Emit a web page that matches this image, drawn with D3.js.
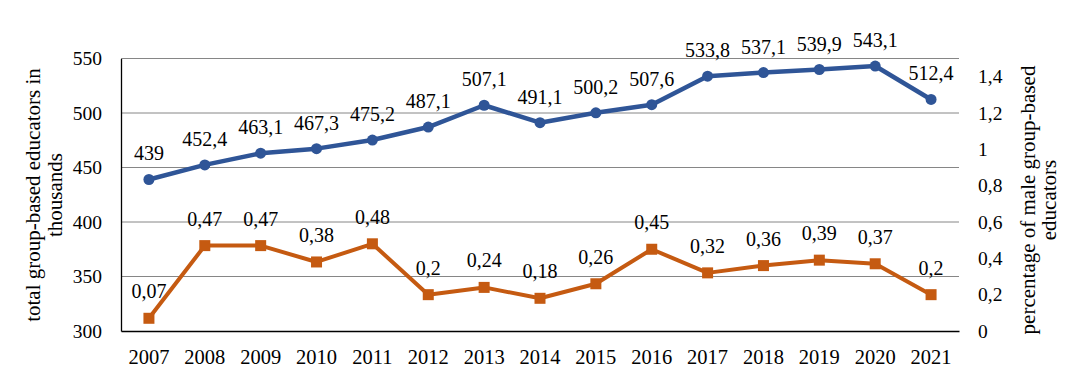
<!DOCTYPE html>
<html>
<head>
<meta charset="utf-8">
<script src="https://cdn.jsdelivr.net/npm/d3@7"></script>
<style>
  html, body { margin: 0; padding: 0; background: #fff; }
  svg { display: block; }
  svg text { font-family: "Liberation Serif", "Times New Roman", serif !important; fill: #000; }
</style>
</head>
<body>
<svg id="chart" width="1087" height="385"></svg>
<script>
const years = ["2007","2008","2009","2010","2011","2012","2013","2014","2015","2016","2017","2018","2019","2020","2021"];
const totalEducators = [439, 452.4, 463.1, 467.3, 475.2, 487.1, 507.1, 491.1, 500.2, 507.6, 533.8, 537.1, 539.9, 543.1, 512.4];
const malePercentage = [0.07, 0.47, 0.47, 0.38, 0.48, 0.2, 0.24, 0.18, 0.26, 0.45, 0.32, 0.36, 0.39, 0.37, 0.2];
const leftTicks = [300, 350, 400, 450, 500, 550];
const rightTicks = [0, 0.2, 0.4, 0.6, 0.8, 1, 1.2, 1.4];
const leftTitle = ["total group-based educators in", "thousands"];
const rightTitle = ["percentage of male group-based", "educators"];

const svg = d3.select("#chart");
const plot = { left: 121, right: 959, top: 58.5, bottom: 331 };
const blue = "#2F5597", orange = "#C55A11";
const FONT = "Liberation Serif";
const comma = v => String(v).replace(".", ",");

const x = d3.scaleBand().domain(years).range([plot.left, plot.right]).padding(0);
const yL = d3.scaleLinear().domain([300, 550]).range([plot.bottom, plot.top]);
const yR = d3.scaleLinear().domain([0, 1.5]).range([plot.bottom, plot.top]);
const cx = d => x(d) + x.bandwidth() / 2;

// gridlines
svg.append("g").selectAll("line").data(leftTicks.filter(t => t > 300)).join("line")
  .attr("x1", plot.left).attr("x2", plot.right)
  .attr("y1", d => yL(d)).attr("y2", d => yL(d))
  .attr("stroke", "#868686").attr("stroke-width", 1);

// left axis
const gL = svg.append("g").attr("transform", `translate(${plot.left},0)`)
  .call(d3.axisLeft(yL).tickValues(leftTicks).tickSize(0).tickPadding(19).tickFormat(d => d));
gL.attr("font-family", FONT).attr("font-size", 19.5);
gL.select(".domain").attr("stroke", "#000").attr("stroke-width", 1.3);

// right axis
const gR = svg.append("g").attr("transform", `translate(${plot.right},0)`)
  .call(d3.axisRight(yR).tickValues(rightTicks).tickSize(0).tickPadding(19).tickFormat(comma));
gR.attr("font-family", FONT).attr("font-size", 19.5);
gR.select(".domain").remove();

// bottom axis
const gB = svg.append("g").attr("transform", `translate(0,${plot.bottom})`)
  .call(d3.axisBottom(x).tickSize(0).tickPadding(18));
gB.attr("font-family", FONT).attr("font-size", 20.5);
gB.select(".domain").attr("stroke", "#000").attr("stroke-width", 1.3);

// axis titles
const lt = svg.append("text").attr("transform", "translate(40,195) rotate(-90)")
  .attr("text-anchor", "middle").attr("font-family", FONT).attr("font-size", 21);
leftTitle.forEach((t, i) => lt.append("tspan").attr("x", 0).attr("dy", i === 0 ? 0 : 22).text(t));
const rt = svg.append("text").attr("transform", "translate(1035,200) rotate(-90)")
  .attr("text-anchor", "middle").attr("font-family", FONT).attr("font-size", 21);
rightTitle.forEach((t, i) => rt.append("tspan").attr("x", 0).attr("dy", i === 0 ? 0 : 21).text(t));

// blue series
const lineL = d3.line().x((d, i) => cx(years[i])).y(d => yL(d));
svg.append("path").datum(totalEducators).attr("d", lineL)
  .attr("fill", "none").attr("stroke", blue).attr("stroke-width", 4.5).attr("stroke-linejoin", "round");
svg.append("g").selectAll("circle").data(totalEducators).join("circle")
  .attr("cx", (d, i) => cx(years[i])).attr("cy", d => yL(d)).attr("r", 5.5).attr("fill", blue);

// orange series
const lineR = d3.line().x((d, i) => cx(years[i])).y(d => yR(d));
svg.append("path").datum(malePercentage).attr("d", lineR)
  .attr("fill", "none").attr("stroke", orange).attr("stroke-width", 4).attr("stroke-linejoin", "round");
svg.append("g").selectAll("rect").data(malePercentage).join("rect")
  .attr("x", (d, i) => cx(years[i]) - 5.5).attr("y", d => yR(d) - 5.5)
  .attr("width", 11).attr("height", 11).attr("fill", orange);

// data labels
svg.append("g").attr("font-family", FONT).attr("font-size", 20)
  .selectAll("text").data(totalEducators).join("text")
  .attr("x", (d, i) => cx(years[i])).attr("y", d => yL(d) - 19)
  .attr("text-anchor", "middle").text(comma);
svg.append("g").attr("font-family", FONT).attr("font-size", 20)
  .selectAll("text").data(malePercentage).join("text")
  .attr("x", (d, i) => cx(years[i])).attr("y", d => yR(d) - 20)
  .attr("text-anchor", "middle").text(comma);
</script>
</body>
</html>
